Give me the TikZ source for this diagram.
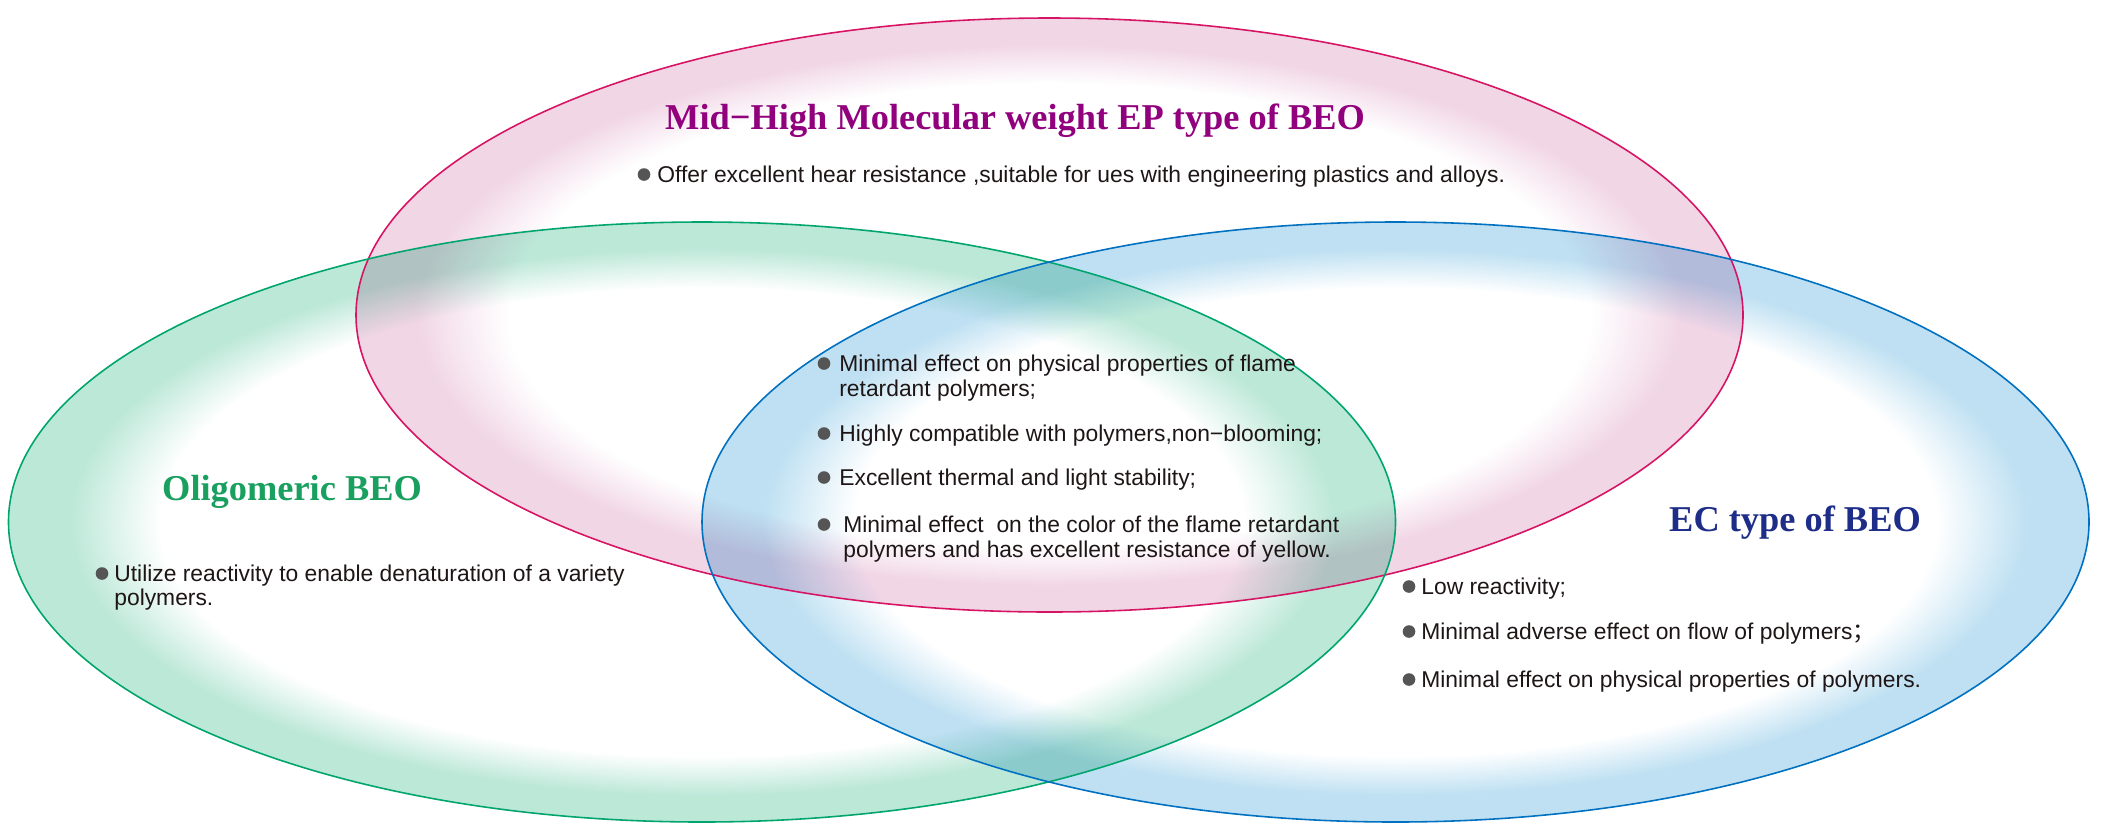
\documentclass[tikz,border=0pt]{standalone}
\usepackage{fontspec}
\setmainfont{Liberation Sans}
\newfontfamily\titlefont{Liberation Serif}
\newfontfamily\cjk{Noto Sans CJK SC}

% 颜色
\definecolor{pinkband}{RGB}{241,214,230}
\definecolor{greenband}{RGB}{188,232,216}
\definecolor{blueband}{RGB}{190,224,242}
\definecolor{pinkline}{RGB}{215,20,100}
\definecolor{greenline}{RGB}{0,165,110}
\definecolor{blueline}{RGB}{0,112,192}
\definecolor{pinkhead}{RGB}{145,0,125}
\definecolor{greenhead}{RGB}{25,160,95}
\definecolor{bluehead}{RGB}{30,45,135}
\definecolor{txtc}{RGB}{30,22,22}
\definecolor{dotc}{RGB}{85,85,85}

% 光晕环
\pgfdeclareradialshading{pinkglow}{\pgfpoint{0bp}{0bp}}{color(0bp)=(white); color(19.5bp)=(white); color(22.8bp)=(pinkband); color(25bp)=(pinkband); color(50bp)=(pinkband)}
\pgfdeclareradialshading{greenglow}{\pgfpoint{0bp}{0bp}}{color(0bp)=(white); color(19.5bp)=(white); color(22.8bp)=(greenband); color(25bp)=(greenband); color(50bp)=(greenband)}
\pgfdeclareradialshading{blueglow}{\pgfpoint{0bp}{0bp}}{color(0bp)=(white); color(19.5bp)=(white); color(22.8bp)=(blueband); color(25bp)=(blueband); color(50bp)=(blueband)}

\tikzset{
  ring/.style={line width=0.9pt},
  item/.style={anchor=base west, inner sep=0pt, text=txtc, font=\fontsize{13}{15}\selectfont},
  head/.style={anchor=base, inner sep=0pt, font=\titlefont\bfseries\fontsize{20.7}{24}\selectfont}
}

\begin{document}
\begin{tikzpicture}[x=0.02cm, y=-0.02cm]
        \useasboundingbox (0,0) rectangle (2112,839);

        % 参数
        \def\rx{693.5}  % 横半轴
        \def\ry{297}    % 纵半轴

        % 圆心
        \coordinate (P) at (1049.5,315);
        \coordinate (G) at (702,522);
        \coordinate (B) at (1395.5,522);

        % 光晕填充
        \begin{scope}[blend mode=multiply]
        \shade[shading=pinkglow] (P) ellipse [x radius=\rx, y radius=\ry];
        \shade[shading=greenglow] (G) ellipse [x radius=\rx, y radius=300];
        \shade[shading=blueglow] (B) ellipse [x radius=\rx, y radius=300];
        \end{scope}

        % 轮廓
        \draw[ring, pinkline] (P) ellipse [x radius=\rx, y radius=\ry];
        \draw[ring, greenline] (G) ellipse [x radius=\rx, y radius=300];
        \draw[ring, blueline] (B) ellipse [x radius=\rx, y radius=300];

        % 标题
        \node[head, text=pinkhead] (tp) at (1015,129) {Mid−High Molecular weight EP type of BEO};
        \node[head, text=greenhead] (tg) at (292,500) {Oligomeric BEO};
        \node[head, text=bluehead] (tb) at (1795,531) {EC type of BEO};

        % 上方
        \node[item] (p1) at (657,182) {Offer excellent hear resistance ,suitable for ues with engineering plastics and alloys.};

        % 中间
        \node[item] (c1) at (839,371) {Minimal effect on physical properties of flame};
        \node[item] (c1b) at (839,396) {retardant polymers;};
        \node[item] (c2) at (839,441) {Highly compatible with polymers,non−blooming;};
        \node[item] (c3) at (839,485) {Excellent thermal and light stability;};
        \node[item] (c4) at (843,532) {Minimal effect \ on the color of the flame retardant};
        \node[item] (c4b) at (843,557) {polymers and has excellent resistance of yellow.};

        % 左侧
        \node[item] (g1) at (114,581) {Utilize reactivity to enable denaturation of a variety};
        \node[item] (g1b) at (114,605) {polymers.};

        % 右侧
        \node[item] (b1) at (1421,594) {Low reactivity;};
        \node[item] (b2) at (1421,639) {Minimal adverse effect on flow of polymers{\cjk ；}};
        \node[item] (b3) at (1421,687) {Minimal effect on physical properties of polymers.};

        % 圆点
        \foreach \n/\s in {p1/13, c1/15, c2/15, c3/15, c4/19, g1/12, b1/12, b2/12, b3/12}
        \fill[dotc] ([xshift=-\s*0.02cm, yshift=0.15cm]\n.base west) circle [radius=6.3];

    \end{tikzpicture}
\end{document}
